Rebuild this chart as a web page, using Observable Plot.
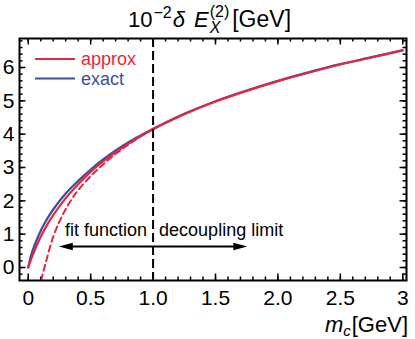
<!DOCTYPE html>
<html><head><meta charset="utf-8">
<script src="https://cdn.jsdelivr.net/npm/d3@7"></script>
<script src="https://cdn.jsdelivr.net/npm/@observablehq/plot@0.6"></script>
<style>
html,body{margin:0;padding:0;background:#fff;}
#chart{width:415px;height:339px;}
</style></head><body><div id="chart"></div>
<script>
// ---- data ----
const mc     = [0, 0.02, 0.05, 0.1, 0.15, 0.2, 0.3, 0.4, 0.5, 0.6, 0.7, 0.8, 0.9, 1.0, 1.25, 1.5, 1.75, 2.0, 2.25, 2.5, 2.75, 3.0];
const exact  = [0, 0.33, 0.66, 1.1, 1.45, 1.74, 2.22, 2.6, 2.94, 3.24, 3.51, 3.75, 3.96, 4.16, 4.61, 4.99, 5.31, 5.6, 5.86, 6.1, 6.31, 6.52];
const approx = [0, 0.22, 0.5, 0.92, 1.27, 1.57, 2.08, 2.5, 2.87, 3.18, 3.46, 3.71, 3.94, 4.15, 4.6, 4.98, 5.3, 5.59, 5.85, 6.09, 6.3, 6.51];
const mcFit  = [0.104, 0.12, 0.13, 0.15, 0.2, 0.25, 0.3, 0.35, 0.4, 0.5, 0.6, 0.7, 0.8, 0.9, 1.0];
const fitFn  = [-0.39, -0.14, 0, 0.28, 0.92, 1.38, 1.75, 2.06, 2.32, 2.74, 3.09, 3.41, 3.68, 3.93, 4.15];

const xTicks = [0, 0.5, 1, 1.5, 2, 2.5, 3];
const xTickLabels = ["0", "0.5", "1.0", "1.5", "2.0", "2.5", "3"];
const yTicks = [0, 1, 2, 3, 4, 5, 6];
const xMinorTicks = d3.range(0, 31).map(i => i / 10);
const yMinorTicks = d3.range(-1, 35).map(i => i / 5);

const decouplingX = [1.0];
const arrowY = 0.63;
const arrowFrom = 0.245, arrowTo = 1.755;
const noteY = 1.13;
const noteLeft = "fit function", noteRight = "decoupling limit";
const seriesNames = ["approx", "exact"];

const RED = "#e8253f", BLUE = "#3b4fa0";
const W = 415, H = 339, mL = 19, mR = 9, mT = 38, mB = 59;
const innerH = H - mT - mB;
const innerW = W - mL - mR;

const exactData = mc.map((x, i) => ({x, y: exact[i]}));
const approxData = mc.map((x, i) => ({x, y: approx[i]}));
const fitData = mcFit.map((x, i) => ({x, y: fitFn[i]}));

const head = {draw(ctx) { ctx.moveTo(0, 0); ctx.lineTo(-14, -3.8); ctx.lineTo(-14, 3.8); ctx.closePath(); }};

const plot = Plot.plot({
  width: W, height: H,
  marginLeft: mL, marginRight: mR, marginTop: mT, marginBottom: mB,
  x: {domain: [-0.07, 3.03]},
  y: {domain: [-0.39, 6.87]},
  style: {fontFamily: "'Liberation Sans', Arial, sans-serif", fontSize: "21px", background: "white", color: "black"},
  marks: [
    // inward ticks on all four sides
    Plot.ruleX(xMinorTicks, {insetTop: innerH - 3.5, stroke: "black", strokeWidth: 1.5}),
    Plot.ruleX(xMinorTicks, {insetBottom: innerH - 3.5, stroke: "black", strokeWidth: 1.5}),
    Plot.ruleX(xTicks, {insetTop: innerH - 6.5, stroke: "black", strokeWidth: 1.5}),
    Plot.ruleX(xTicks, {insetBottom: innerH - 6.5, stroke: "black", strokeWidth: 1.5}),
    Plot.ruleY(yMinorTicks, {insetRight: innerW - 3.5, stroke: "black", strokeWidth: 1.5}),
    Plot.ruleY(yMinorTicks, {insetLeft: innerW - 3.5, stroke: "black", strokeWidth: 1.5}),
    Plot.ruleY(yTicks, {insetRight: innerW - 6.5, stroke: "black", strokeWidth: 1.5}),
    Plot.ruleY(yTicks, {insetLeft: innerW - 6.5, stroke: "black", strokeWidth: 1.5}),
    Plot.axisX(xTicks, {tickSize: 0, tickPadding: 10, tickFormat: d => xTickLabels[xTicks.indexOf(d)], fontSize: 21, label: null}),
    Plot.axisY(yTicks, {tickSize: 0, tickPadding: 5, fontSize: 21, label: null}),
    // curves
    Plot.line(exactData, {x: "x", y: "y", stroke: BLUE, strokeWidth: 2.2, curve: "catmull-rom", clip: true}),
    Plot.line(approxData, {x: "x", y: "y", stroke: RED, strokeWidth: 2.2, curve: "catmull-rom", clip: true}),
    Plot.line(fitData, {x: "x", y: "y", stroke: RED, strokeWidth: 2, strokeDasharray: "6,4", curve: "catmull-rom", clip: true}),
    // decoupling line
    Plot.ruleX(decouplingX, {stroke: "black", strokeWidth: 2, strokeDasharray: "9,4"}),
    // arrows
    Plot.ruleY([arrowY], {x1: arrowFrom, x2: arrowTo, insetLeft: 8, insetRight: 8, stroke: "black", strokeWidth: 2}),
    Plot.dot([arrowFrom], {x: d => d, y: () => arrowY, symbol: head, rotate: 180, fill: "black", stroke: null}),
    Plot.dot([arrowTo], {x: d => d, y: () => arrowY, symbol: head, rotate: 0, fill: "black", stroke: null}),
    Plot.text([noteLeft], {x: () => decouplingX[0], y: () => noteY, text: d => d, textAnchor: "end", dx: -6, fontSize: 18, fill: "black"}),
    Plot.text([noteRight], {x: () => decouplingX[0], y: () => noteY, text: d => d, textAnchor: "start", dx: 6, fontSize: 18, fill: "black"}),
    Plot.frame({stroke: "black", strokeWidth: 2})
  ]
});
document.getElementById("chart").append(plot);

const svg = d3.select(plot);
const FONT = "'Liberation Sans', Arial, sans-serif";

function rich(parts, x, y, align) {
  const g = svg.append("g").attr("font-family", FONT).attr("fill", "black").attr("text-anchor", "start");
  let cx = 0, pending = 0;
  for (const p of parts) {
    cx += p.gap || 0;
    const t = g.append("text").attr("x", cx).attr("y", p.dy || 0).attr("text-anchor", "start")
      .attr("font-size", p.size).attr("font-style", p.italic ? "italic" : null).text(p.t);
    const w = t.node().getComputedTextLength();
    if (p.stack) { pending = w; }
    else { cx += Math.max(w, pending); pending = 0; }
  }
  const sx = align === "end" ? x - cx : (align === "middle" ? x - cx / 2 : x);
  g.attr("transform", `translate(${sx},${y})`);
}

// title: 10^{-2} δ E_X^{(2)} [GeV]
rich([
  {t: "10", size: 22},
  {t: "\u22122", size: 16, dy: -9, gap: 1},
  {t: "\u03b4", size: 22, italic: true, gap: 1},
  {t: "E", size: 22, italic: true, gap: 9},
  {t: "X", size: 16, italic: true, dy: 6, gap: 1, stack: true},
  {t: "(2)", size: 16, dy: -10},
  {t: "[GeV]", size: 23, gap: 3}
], 128, 27, "start");

// x axis label: m_c [GeV]
rich([
  {t: "m", size: 22, italic: true},
  {t: "c", size: 15, italic: true, dy: 4},
  {t: "[GeV]", size: 22, gap: 1}
], 408, 332, "end");

// legend
const leg = svg.append("g").attr("font-family", FONT).attr("font-size", 18).attr("text-anchor", "start");
[[seriesNames[0], RED, 59], [seriesNames[1], BLUE, 78.5]].forEach(([name, col, yy]) => {
  leg.append("line").attr("x1", 35).attr("x2", 75).attr("y1", yy).attr("y2", yy).attr("stroke", col).attr("stroke-width", 2.2);
  leg.append("text").attr("x", 81).attr("y", yy + 6).attr("fill", col).text(name);
});
</script>
</body></html>
